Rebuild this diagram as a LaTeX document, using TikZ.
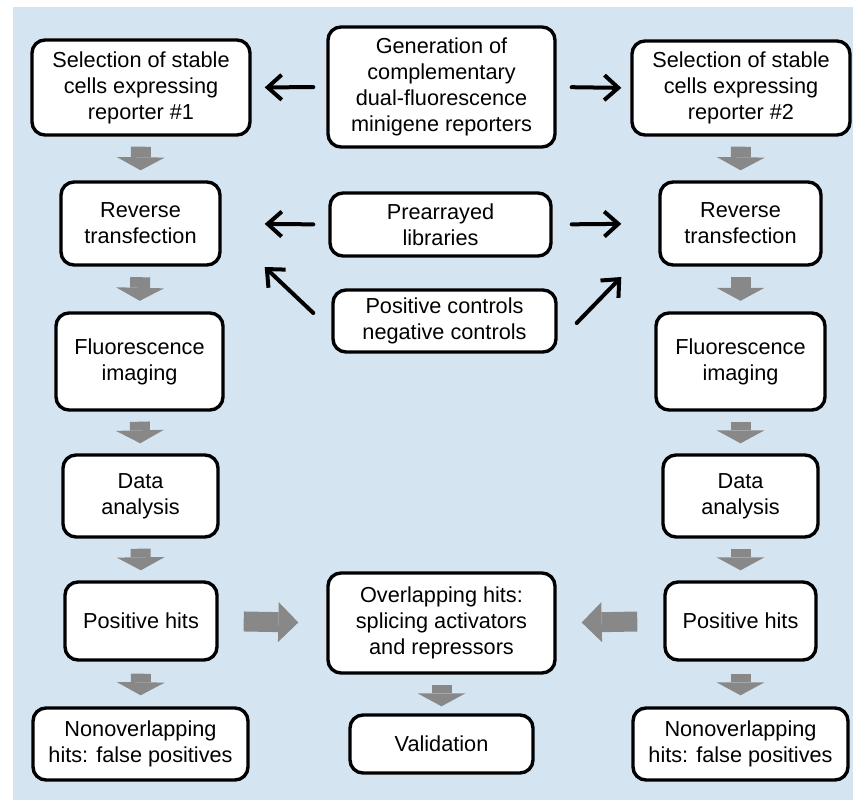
\documentclass[tikz,border=0pt]{standalone}
\usepackage{fontspec}
\setmainfont{Liberation Sans}
\usetikzlibrary{arrows.meta,calc}
\definecolor{bgblue}{RGB}{212,229,241}
\definecolor{arrowgray}{RGB}{136,136,136}
\begin{document}
\begin{tikzpicture}[x=1pt,y=-1pt,
  box/.style={draw=black, line width=3.4pt, fill=white, rounded corners=13pt, inner sep=0pt,
    align=center, font=\fontsize{21.7}{26}\selectfont},
  blk/.style={line width=4pt, line cap=round, -{Straight Barb[length=14pt,width=25pt]}},
  gdown/.style={draw=arrowgray, line width=20pt, -{Triangle[length=13pt,width=48pt,line width=0pt]}},
  gside/.style={draw=arrowgray, line width=20pt, -{Triangle[length=20pt,width=40pt,line width=0pt]}}]
\useasboundingbox (0,0) rectangle (853,800);
\fill[white] (0,0) rectangle (853,800);
\fill[bgblue] (13,7) rectangle (853,800);

% left column
\node[box, minimum width=218pt, minimum height=95pt] (sel1) at (141,87.5) {Selection of stable\\cells expressing\\reporter \#1};
\node[box, minimum width=159pt, minimum height=83pt] (rev1) at (140.5,223.5) {Reverse\\transfection};
\node[box, minimum width=167pt, minimum height=97pt] (fl1) at (139.5,361.5) {Fluorescence\\imaging};
\node[box, minimum width=155pt, minimum height=82pt] (da1) at (140.5,496) {Data\\analysis};
\node[box, minimum width=152pt, minimum height=78pt] (po1) at (141,621) {Positive hits};
\node[box, minimum width=215pt, minimum height=72pt] (no1) at (140.5,744) {Nonoverlapping\\hits: false positives};

% middle column
\node[box, minimum width=227pt, minimum height=120pt] (gen) at (441.5,87) {Generation of\\complementary\\dual-fluorescence\\minigene reporters};
\node[box, minimum width=221pt, minimum height=63pt] (pre) at (440.5,224.5) {Prearrayed\\libraries};
\node[box, minimum width=223pt, minimum height=62pt] (ctrl) at (444.5,321) {Positive controls\\negative controls};
\node[box, minimum width=227pt, minimum height=100pt] (ovl) at (441.5,623) {Overlapping hits:\\splicing activators\\and repressors};
\node[box, minimum width=183pt, minimum height=58pt] (val) at (441.5,744) {Validation};

% right column
\node[box, minimum width=218pt, minimum height=94pt] (sel2) at (741,88) {Selection of stable\\cells expressing\\reporter \#2};
\node[box, minimum width=161pt, minimum height=83pt] (rev2) at (740.5,223.5) {Reverse\\transfection};
\node[box, minimum width=169pt, minimum height=97pt] (fl2) at (740.5,361.5) {Fluorescence\\imaging};
\node[box, minimum width=155pt, minimum height=82pt] (da2) at (740.5,496) {Data\\analysis};
\node[box, minimum width=151pt, minimum height=78pt] (po2) at (740.5,621) {Positive hits};
\node[box, minimum width=215pt, minimum height=72pt] (no2) at (740.5,744) {Nonoverlapping\\hits: false positives};

% gray block arrows
\draw[gdown, shorten <=10pt, shorten >=10pt] (sel1.south) -- (rev1.north);
\draw[gdown, shorten <=10.5pt, shorten >=10.5pt] (rev1.south) -- (fl1.north);
\draw[gdown, shorten <=10pt, shorten >=10pt] (fl1.south) -- (da1.north);
\draw[gdown, shorten <=10pt, shorten >=10pt] (da1.south) -- (po1.north);
\draw[gdown, shorten <=12pt, shorten >=11pt] (po1.south) -- (no1.north);
\draw[gdown, shorten <=10pt, shorten >=10pt] (sel2.south) -- (rev2.north);
\draw[gdown, shorten <=10.5pt, shorten >=10.5pt] (rev2.south) -- (fl2.north);
\draw[gdown, shorten <=10pt, shorten >=10pt] (fl2.south) -- (da2.north);
\draw[gdown, shorten <=10pt, shorten >=10pt] (da2.south) -- (po2.north);
\draw[gdown, shorten <=12pt, shorten >=11pt] (po2.south) -- (no2.north);
\draw[gdown, shorten <=10pt, shorten >=7pt] (ovl.south) -- (val.north);
\draw[gside, shorten <=25pt, shorten >=28pt] (po1.east) -- (ovl.west);
\draw[gside, shorten <=26pt, shorten >=25pt] (po2.west) -- (ovl.east);

% black arrows
\draw[blk, shorten <=13pt, shorten >=13pt] (gen.west) -- (sel1.east);
\draw[blk, shorten <=15pt, shorten >=9pt] (gen.east) -- (sel2.west);
\draw[blk, shorten <=15pt, shorten >=43pt] (pre.west) -- (rev1.east);
\draw[blk, shorten <=19pt, shorten >=37pt] (pre.east) -- (rev2.west);
\draw[blk] ([shift={(-18,-8)}]ctrl.west) -- ([shift={(43,43.5)}]rev1.east);
\draw[blk] ([shift={(19,2)}]ctrl.east) -- ([shift={(-37,53.5)}]rev2.west);
\end{tikzpicture}
\end{document}
